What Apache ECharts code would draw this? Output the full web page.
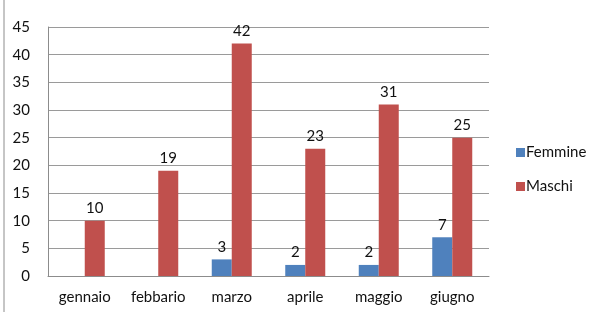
<!DOCTYPE html>
<html><head><meta charset="utf-8">
<script src="https://cdn.jsdelivr.net/npm/echarts@6/dist/echarts.min.js"></script>
<style>html,body{margin:0;padding:0;background:#fff}#c{width:604px;height:312px}</style>
</head><body><div id="c"></div>
<script>
var categories = ['gennaio','febbario','marzo','aprile','maggio','giugno'];
var femmine = [0, 0, 3, 2, 2, 7];
var maschi = [10, 19, 42, 23, 31, 25];
var yTicks = [0,5,10,15,20,25,30,35,40,45];

var chart = echarts.init(document.getElementById('c'));
var font = 'Lato';
var lbl = {show:true, position:'top', color:'#111', fontFamily:font, fontSize:15, distance:5,
  formatter:function(p){return p.value === 0 ? '' : String(p.value);}};
chart.setOption({
  animation:false,
  graphic:[{type:'line', shape:{x1:4,y1:0,x2:4,y2:312}, style:{stroke:'#8c8c8c', lineWidth:1}}],
  grid:{left:48, right:115, top:27, bottom:36},
  legend:{orient:'vertical', left:511, top:140, itemWidth:9, itemHeight:9, itemGap:19, icon:'rect',
    textStyle:{fontFamily:font, fontSize:15, color:'#111', padding:[0,0,0,-4]},
    data:['Femmine','Maschi']},
  xAxis:{type:'category', data:categories,
    axisLine:{lineStyle:{color:'#8c8c8c'}}, axisTick:{show:false},
    axisLabel:{fontFamily:font, fontSize:15, color:'#111', margin:14}},
  yAxis:{type:'value', min:yTicks[0], max:yTicks[yTicks.length-1], interval:5,
    axisLine:{show:true, lineStyle:{color:'#8c8c8c'}}, axisTick:{show:false},
    splitLine:{lineStyle:{color:'#9a9a9a'}},
    axisLabel:{fontFamily:font, fontSize:15, color:'#111', margin:18}},
  series:[
    {name:'Femmine', type:'bar', data:femmine, barWidth:20, barGap:'0%', itemStyle:{color:'#4F81BD'}, label:lbl},
    {name:'Maschi', type:'bar', data:maschi, barWidth:20, barGap:'0%', itemStyle:{color:'#C0504D'}, label:lbl}
  ]
});
</script></body></html>
